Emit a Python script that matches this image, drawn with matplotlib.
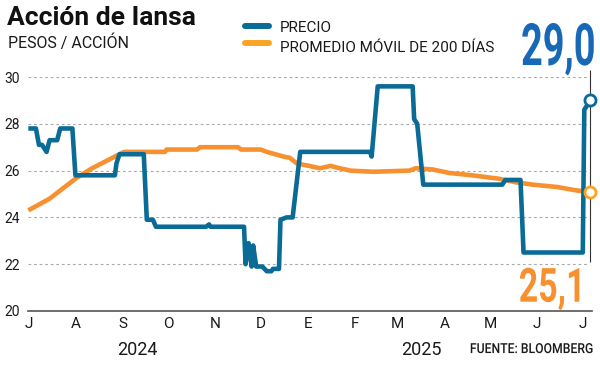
import pandas as pd
import matplotlib
matplotlib.use("Agg")
import matplotlib.pyplot as plt
from matplotlib.patheffects import AbstractPathEffect
from matplotlib.transforms import Affine2D

# ---------------------------------------------------------------------------
# Data
# ---------------------------------------------------------------------------
price_dates = [
    "2024-07-01", "2024-07-06", "2024-07-08", "2024-07-10", "2024-07-13",
    "2024-07-15", "2024-07-20", "2024-07-22", "2024-07-30", "2024-08-01",
    "2024-08-27", "2024-08-28", "2024-08-30", "2024-09-15", "2024-09-17",
    "2024-09-21", "2024-09-23", "2024-10-26", "2024-10-28", "2024-10-29",
    "2024-11-20", "2024-11-21", "2024-11-23", "2024-11-25", "2024-11-26",
    "2024-11-28", "2024-12-02", "2024-12-05", "2024-12-08", "2024-12-09",
    "2024-12-13", "2024-12-14", "2024-12-18", "2024-12-22", "2024-12-27",
    "2025-02-11", "2025-02-12", "2025-02-16", "2025-03-11", "2025-03-12",
    "2025-03-14", "2025-03-18", "2025-05-09", "2025-05-11", "2025-05-21",
    "2025-05-23", "2025-07-01", "2025-07-02", "2025-07-06",
]
price_values = [
    27.8, 27.8, 27.1, 27.1, 26.8,
    27.3, 27.3, 27.8, 27.8, 25.8,
    25.8, 26.3, 26.7, 26.7, 23.9,
    23.9, 23.6, 23.6, 23.7, 23.6,
    23.6, 22.0, 22.9, 21.9, 22.8,
    21.9, 21.9, 21.7, 21.7, 21.8,
    21.8, 23.9, 24.0, 24.0, 26.8,
    26.8, 26.6, 29.6, 29.6, 28.2,
    28.0, 25.4, 25.4, 25.6, 25.6,
    22.5, 22.5, 28.6, 29.0,
]

ma_dates = [
    "2024-07-01", "2024-07-15", "2024-08-02", "2024-08-12", "2024-08-24",
    "2024-09-02", "2024-09-29", "2024-09-30", "2024-10-20", "2024-10-22",
    "2024-11-16", "2024-11-18", "2024-12-01", "2024-12-05", "2024-12-16",
    "2024-12-20", "2024-12-25", "2025-01-02", "2025-01-09", "2025-01-16",
    "2025-01-22", "2025-01-29", "2025-02-13", "2025-03-09", "2025-03-13",
    "2025-03-24", "2025-04-04", "2025-04-19", "2025-05-07", "2025-05-18",
    "2025-05-29", "2025-06-14", "2025-06-27", "2025-07-06",
]
ma_values = [
    24.3, 24.8, 25.7, 26.1, 26.5,
    26.8, 26.8, 26.9, 26.9, 27.0,
    27.0, 26.9, 26.9, 26.8, 26.6,
    26.55, 26.3, 26.2, 26.1, 26.2,
    26.1, 26.0, 25.95, 26.0, 26.1,
    26.05, 25.9, 25.8, 25.65, 25.5,
    25.4, 25.3, 25.15, 25.1,
]

month_labels = ["J", "A", "S", "O", "N", "D", "E", "F", "M", "A", "M", "J", "J"]
y_ticks = [20, 22, 24, 26, 28, 30]

price_x = pd.to_datetime(price_dates)
ma_x = pd.to_datetime(ma_dates)
month_x = pd.date_range("2024-07-01", "2025-07-01", freq="MS")
x_start = pd.Timestamp("2024-07-01")
x_end = pd.Timestamp("2025-07-07")


class Squeeze(AbstractPathEffect):
    """Draw the text narrower (condensed look), keeping its right edge."""

    def __init__(self, sx):
        super().__init__()
        self.sx = sx

    def draw_path(self, renderer, gc, tpath, affine, rgbFace=None):
        x0 = tpath.transformed(affine).get_extents().x1
        squeeze = Affine2D().translate(-x0, 0).scale(self.sx, 1).translate(x0, 0)
        renderer.draw_path(gc, tpath, affine + squeeze, rgbFace)


# ---------------------------------------------------------------------------
# Style
# ---------------------------------------------------------------------------
BLUE = "#0b6b97"
BLUE_LABEL = "#1769b8"
ORANGE = "#f7902f"
ORANGE_MARK = "#f9a424"
TXT = "#1a1a1a"
plt.rcParams["font.family"] = ["Roboto", "DejaVu Sans"]

fig = plt.figure(figsize=(6.0, 3.76), dpi=100)
ax = fig.add_axes([0.0472, 0.1729, 0.9393, 0.6223])

ax.plot(ma_x, ma_values, color=ORANGE, lw=3.3, solid_capstyle="butt",
        solid_joinstyle="round", zorder=3, clip_on=False)
ax.plot(price_x, price_values, color=BLUE, lw=3.3, solid_capstyle="butt",
        solid_joinstyle="round", zorder=4, clip_on=False)

# end markers and leader line
last = price_x[-1]
ax.vlines(last, 22.1, 30.3, color="#333333", lw=0.8, zorder=2, clip_on=False)
ax.plot([last], [price_values[-1]], "o", ms=8, mfc="white", mec=BLUE,
        mew=2.0, zorder=6, clip_on=False)
ax.plot([ma_x[-1]], [ma_values[-1]], "o", ms=8, mfc="white", mec=ORANGE_MARK,
        mew=2.0, zorder=6, clip_on=False)

ax.set_ylim(20, 30)
ax.set_xlim(x_start, x_end)
ax.set_yticks(y_ticks)
ax.set_yticklabels([str(v) for v in y_ticks], fontsize=10, color=TXT)
ax.set_xticks(month_x)
ax.set_xticklabels(month_labels, fontsize=11, color=TXT)
ax.tick_params(axis="both", length=0)
ax.tick_params(axis="y", pad=6)
ax.tick_params(axis="x", pad=4.5)

ax.hlines(y_ticks[1:], x_start, pd.Timestamp("2025-07-04"), color="#aaaaaa",
          lw=0.8, linestyles=(0, (2.5, 2.5)), zorder=1)

for side in ["top", "right", "left"]:
    ax.spines[side].set_visible(False)
ax.spines["bottom"].set_color("#555555")
ax.spines["bottom"].set_linewidth(1.2)

# ---------------------------------------------------------------------------
# Texts
# ---------------------------------------------------------------------------
fig.text(0.012, 0.9335, "Acción de Iansa", fontsize=19, fontweight="bold",
         va="baseline", ha="left", color="#111111")
fig.text(0.013, 0.8715, "PESOS / ACCIÓN", fontsize=11.5, va="baseline",
         ha="left", color=TXT)

fig.lines.append(plt.Line2D([0.408, 0.448], [0.930, 0.930], color=BLUE, lw=4.3,
                            solid_capstyle="round", transform=fig.transFigure))
fig.lines.append(plt.Line2D([0.408, 0.448], [0.885, 0.885], color=ORANGE_MARK,
                            lw=4.3, solid_capstyle="round",
                            transform=fig.transFigure))
fig.text(0.4665, 0.9157, "PRECIO", fontsize=11, va="baseline", ha="left",
         color=TXT)
fig.text(0.4665, 0.8625, "PROMEDIO MÓVIL DE 200 DÍAS", fontsize=11,
         va="baseline", ha="left", color=TXT)

fig.text(0.9945, 0.827, "29,0", fontsize=42, fontweight="bold",
         color=BLUE_LABEL, ha="right", va="baseline",
         path_effects=[Squeeze(0.65)])
fig.text(0.980, 0.1976, "25,1", fontsize=34, fontweight="bold",
         color=ORANGE, ha="right", va="baseline",
         path_effects=[Squeeze(0.72)])

fig.text(0.229, 0.056, "2024", fontsize=13, ha="center", va="baseline",
         color=TXT)
fig.text(0.7025, 0.056, "2025", fontsize=13, ha="center", va="baseline",
         color=TXT)
fig.text(0.988, 0.061, "FUENTE: BLOOMBERG", fontsize=10, fontweight="medium",
         ha="right", va="baseline", color=TXT, path_effects=[Squeeze(0.88)])

fig.savefig("out.png", dpi=100, facecolor="white")
